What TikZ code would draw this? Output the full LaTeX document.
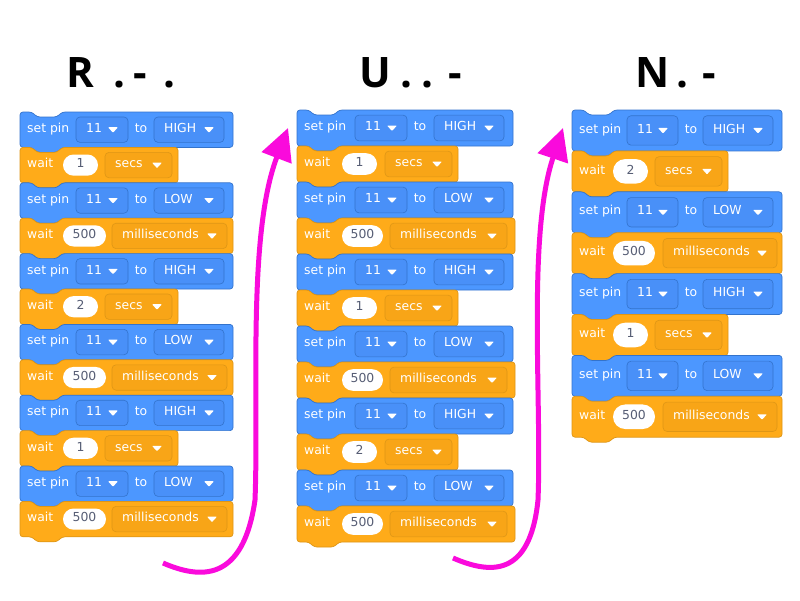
\documentclass[tikz,border=0pt]{standalone}
\usepackage{fontspec}
\setmainfont{DejaVu Sans}
\newfontfamily\hdrfont{Open Sans}
\usetikzlibrary{arrows.meta}
\definecolor{cb}{HTML}{4C97FF}
\definecolor{cbD}{HTML}{3373CC}
\definecolor{cbS}{HTML}{4990F8}
\definecolor{co}{HTML}{FFAB19}
\definecolor{coD}{HTML}{DE9616}
\definecolor{coS}{HTML}{F8A517}
\definecolor{mag}{HTML}{FA0ADC}
\definecolor{ovt}{HTML}{575E75}
\tikzset{
  lbl/.style={text=white, font=\fontsize{12.4}{14}\selectfont, inner sep=0pt},
  ovlbl/.style={text=ovt, font=\fontsize{12.4}{14}\selectfont, inner sep=0pt, anchor=mid},
  hdr/.style={font=\hdrfont\bfseries\fontsize{42}{48}\selectfont, inner sep=0pt, anchor=base west},
  arr/.style={draw=mag, line width=5pt, -{Triangle[length=32pt,width=31pt]}},
}
\newcommand\hc[2]{\makebox[0pt][l]{\hspace*{#1pt}\makebox[0pt]{#2}}}
\newcommand\sbtri[2]{\fill[white, rounded corners=0.8pt] ({#1-5},{#2-2.5}) -- ({#1+5},{#2-2.5}) -- ({#1},{#2+3}) -- cycle;}
\newcommand\sbblock[4]{%
  \filldraw[fill=#4, draw=#4D, line width=0.7pt, rounded corners=3pt]
  ({#1},{#2}) -- ({#1+12},{#2}) -- ({#1+17},{#2+5}) -- ({#1+37},{#2+5}) -- ({#1+42},{#2})
  -- ({#1+#3},{#2}) -- ({#1+#3},{#2+\bH}) -- ({#1+42},{#2+\bH}) -- ({#1+37},{#2+\bH+5})
  -- ({#1+17},{#2+\bH+5}) -- ({#1+12},{#2+\bH}) -- ({#1},{#2+\bH}) -- cycle;}
\newcommand\sbdrop[6]{%
  \filldraw[fill=#5S, draw=#5D, line width=0.6pt, rounded corners=4pt] ({#2},{#4-\DH}) rectangle ({#3},{#4+\DH});
  \node[lbl, anchor=mid west] (#1) at ({#2+10},{#4}) {#6};
  \sbtri{#3-15}{#4}}
\newcommand\sboval[5]{%
  \fill[white, rounded corners=\OH pt] ({#2},{#4-\OH}) rectangle ({#3},{#4+\OH});
  \node[ovlbl] (#1) at ({(#2+#3)/2},{#4}) {#5};}
\newcommand\sbset[3]{%
  \pgfmathsetmacro\yt{\bY+#2*\bH}%
  \pgfmathsetmacro\yc{\yt+\bH/2}%
  \sbblock{\bX}{\yt}{\wSet}{cb}
  \node[lbl, anchor=mid west] (#1a) at ({\bX+7},{\yc}) {set pin};
  \sbdrop{#1b}{\bX+\oPinL}{\bX+\oPinR}{\yc}{cb}{11}
  \node[lbl, anchor=mid] (#1c) at ({\bX+\oTo},{\yc}) {to};
  \sbdrop{#1d}{\bX+\oValL}{\bX+\oValR}{\yc}{cb}{#3}}
\newcommand\sbwaits[3]{%
  \pgfmathsetmacro\yt{\bY+#2*\bH}%
  \pgfmathsetmacro\yc{\yt+\bH/2}%
  \sbblock{\bX}{\yt}{\wSecs}{co}
  \node[lbl, anchor=mid west] (#1a) at ({\bX+7},{\yc}) {wait};
  \sboval{#1b}{\bX+\oOvL}{\bX+\oOvRs}{\yc}{#3}
  \sbdrop{#1c}{\bX+\oSecL}{\bX+\oSecR}{\yc}{co}{secs}}
\newcommand\sbwaitms[2]{%
  \pgfmathsetmacro\yt{\bY+#2*\bH}%
  \pgfmathsetmacro\yc{\yt+\bH/2}%
  \sbblock{\bX}{\yt}{\wMs}{co}
  \node[lbl, anchor=mid west] (#1a) at ({\bX+7},{\yc}) {wait};
  \sboval{#1b}{\bX+\oOvL}{\bX+\oOvRm}{\yc}{500}
  \sbdrop{#1c}{\bX+\oMsL}{\bX+\oMsR}{\yc}{co}{milliseconds}}
\begin{document}
\begin{tikzpicture}[x=1pt,y=-1pt]
\fill[white] (0,0) rectangle (800,600);
\useasboundingbox (0,0) rectangle (800,600);
% headers
\node[hdr] (h1) at (68,87) {\hc{12}{R}\hc{51}{.}\hc{72}{-}\hc{101}{.}\hspace*{110pt}};
\node[hdr] (h2) at (363,87) {\hc{12.5}{U}\hc{43}{.}\hc{64}{.}\hc{92}{-}\hspace*{100pt}};
\node[hdr] (h3) at (640,87) {\hc{12}{N}\hc{42}{.}\hc{69}{-}\hspace*{76pt}};
% column 1
\def\bX{20}\def\bY{112}\def\bH{35.4}\def\DH{12.7}\def\OH{10.6}
\def\wSet{213}\def\oPinL{56}\def\oPinR{108}\def\oTo{121}\def\oValL{134}\def\oValR{204}
\def\oOvL{43}\def\oOvRs{78}\def\oOvRm{86}\def\oSecL{85}\def\oSecR{152}\def\wSecs{158}
\def\oMsL{92}\def\oMsR{207}\def\wMs{213}
\sbset{a0}{0}{HIGH}
\sbwaits{a1}{1}{1}
\sbset{a2}{2}{LOW}
\sbwaitms{a3}{3}
\sbset{a4}{4}{HIGH}
\sbwaits{a5}{5}{2}
\sbset{a6}{6}{LOW}
\sbwaitms{a7}{7}
\sbset{a8}{8}{HIGH}
\sbwaits{a9}{9}{1}
\sbset{a10}{10}{LOW}
\sbwaitms{a11}{11}
% column 2
\def\bX{297}\def\bY{110}\def\bH{36}\def\DH{12.9}\def\OH{10.8}
\def\wSet{216}\def\oPinL{58}\def\oPinR{110}\def\oTo{123}\def\oValL{137}\def\oValR{207}
\def\oOvL{45}\def\oOvRs{80}\def\oOvRm{86}\def\oSecL{88}\def\oSecR{155}\def\wSecs{161}
\def\oMsL{93}\def\oMsR{210}\def\wMs{218}
\sbset{b0}{0}{HIGH}
\sbwaits{b1}{1}{1}
\sbset{b2}{2}{LOW}
\sbwaitms{b3}{3}
\sbset{b4}{4}{HIGH}
\sbwaits{b5}{5}{1}
\sbset{b6}{6}{LOW}
\sbwaitms{b7}{7}
\sbset{b8}{8}{HIGH}
\sbwaits{b9}{9}{2}
\sbset{b10}{10}{LOW}
\sbwaitms{b11}{11}
% column 3
\def\bX{572}\def\bY{110}\def\bH{40.9}\def\DH{14.7}\def\OH{12.3}
\def\wSet{210}\def\oPinL{55}\def\oPinR{106}\def\oTo{119}\def\oValL{131}\def\oValR{201}
\def\oOvL{41}\def\oOvRs{76}\def\oOvRm{83}\def\oSecL{83}\def\oSecR{150}\def\wSecs{156}
\def\oMsL{91}\def\oMsR{205}\def\wMs{210}
\sbset{c0}{0}{HIGH}
\sbwaits{c1}{1}{2}
\sbset{c2}{2}{LOW}
\sbwaitms{c3}{3}
\sbset{c4}{4}{HIGH}
\sbwaits{c5}{5}{1}
\sbset{c6}{6}{LOW}
\sbwaitms{c7}{7}
% arrows
\coordinate (s1) at (163,563);
\coordinate (e1) at (288,128);
\draw[arr] (s1) .. controls (200,579) and (243,583) .. (255,500) .. controls (259,400) and (247,235) .. (e1);
\coordinate (s2) at (453,558);
\coordinate (e2) at (563,128);
\draw[arr] (s2) .. controls (490,574) and (530,578) .. (538,500) .. controls (542,400) and (527,235) .. (e2);
\end{tikzpicture}
\end{document}
